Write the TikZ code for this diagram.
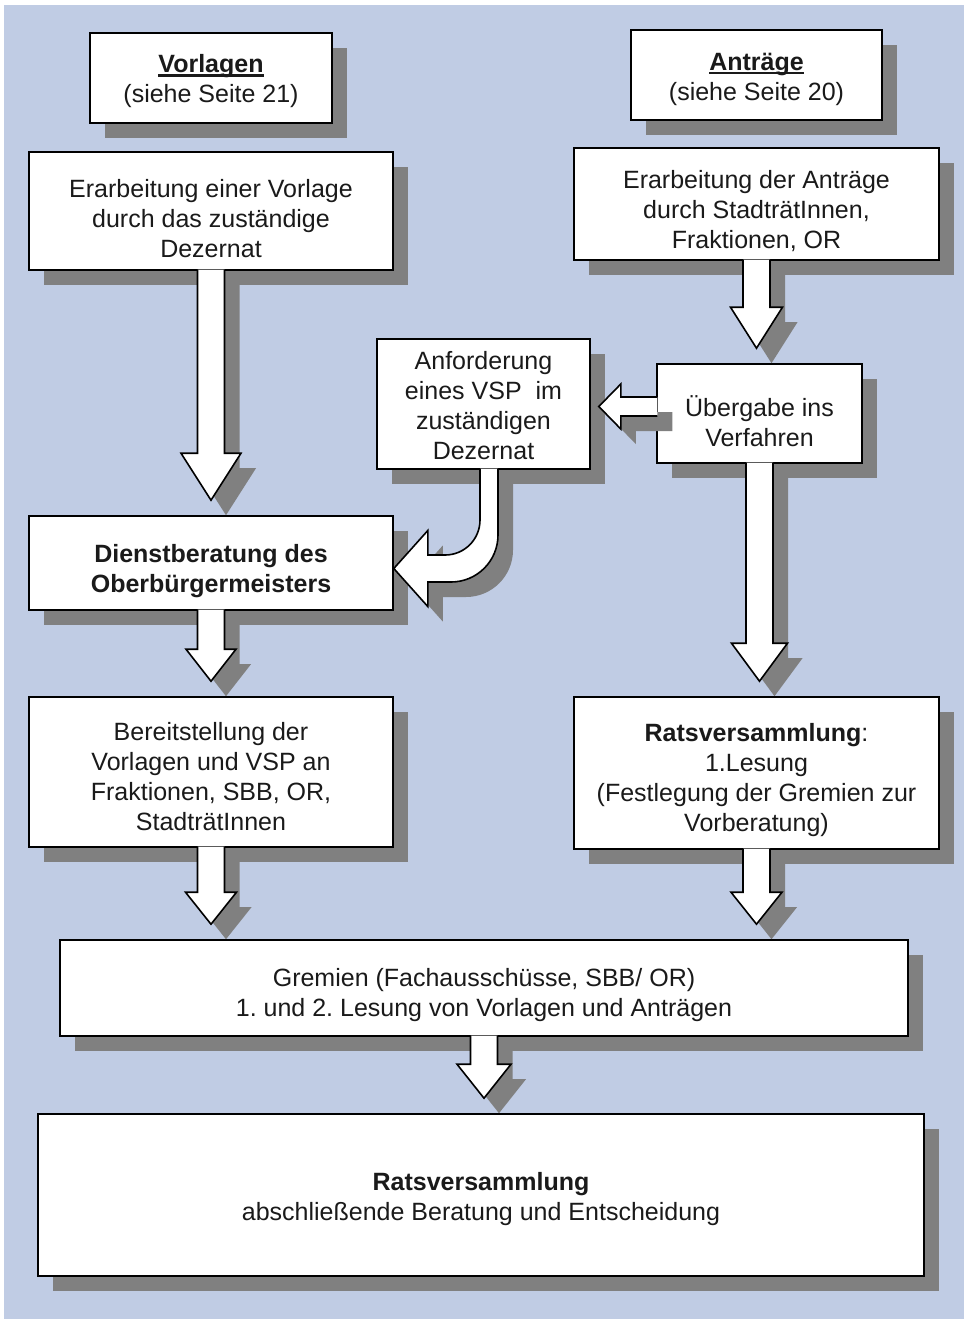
\documentclass[tikz,border=0pt]{standalone}
\usepackage{fontspec}
\setmainfont{Liberation Sans}
\usepackage{xcolor}
\usepackage{tikz}
\usetikzlibrary{calc,shadows}
\definecolor{bgblue}{HTML}{C0CCE4}
\definecolor{shadowgray}{HTML}{808080}
\definecolor{textgray}{HTML}{1A1A1A}
\newcommand\ULine[1]{\setbox0\hbox{#1}\rlap{\rule[-1.9pt]{\wd0}{1.3pt}}\box0}
\newcommand\Tdn[1]{\rule{0pt}{#1}}
\frenchspacing

\begin{document}
\begin{tikzpicture}[y=-0.5pt,x=0.5pt,
	box/.style={draw=black, line width=0.8pt, fill=white, align=center, inner sep=0pt,
		text=textgray, font=\fontsize{12.5}{15}\selectfont,
		drop shadow={shadow xshift=7.5pt, shadow yshift=-7.5pt, fill=shadowgray, opacity=1}},
	arrshadow/.style={fill=shadowgray, transform canvas={shift={(7.5pt,-7.5pt)}}},
	arrbody/.style={fill=white, draw=black, line width=0.8pt, line join=miter}]
	\newcommand\DownShape[4]{let \p1=(#3.south), \p2=(#3.south |- #4.north) in
		(\x1-6.75pt,\y1+0.6pt) -- (\x1-6.75pt,\y2+7.5pt+#1) -- (\x1-#2,\y2+7.5pt+#1) -- (\x1,\y2+7.5pt)
		-- (\x1+#2,\y2+7.5pt+#1) -- (\x1+6.75pt,\y2+7.5pt+#1) -- (\x1+6.75pt,\y1+0.6pt)}
	\newcommand\DownArrow[3][17pt/13.5pt]{%
		\foreach \hl/\hw in {#1}{
			\path[arrshadow] \DownShape{\hl}{\hw}{#2}{#3};
			\path[arrbody] \DownShape{\hl}{\hw}{#2}{#3};
		}}
	\newcommand\LeftShape{let \p1=($(ueb.west |- anf.east)+(0,2.5)$), \p2=(anf.east) in
		(\x1+0.6pt,\y1+4.75pt) -- (\x2+15pt,\y1+4.75pt) -- (\x2+15pt,\y1+11.25pt) -- (\x2+4pt,\y1)
		-- (\x2+15pt,\y1-11.25pt) -- (\x2+15pt,\y1-4.75pt) -- (\x1+0.6pt,\y1-4.75pt)}
	\newcommand\CurveShape{let \p1=(anf.south), \p2=(dienst.east), \p3=(\x2,\y2-2.75pt),
		\p4=(\x1+7.25pt,\y3-6.75pt), \p5=(\x1-1.75pt,\y3+6.75pt) in
		(\x5,\y1+0.6pt) -- (\x5,\y5+17.5pt) .. controls (\x5,\y5+7.8pt) and (\x5-7.8pt,\y5) .. (\x5-17.5pt,\y5)
		-- (\x2+17pt,\y5) -- (\x2+17pt,\y3+19pt) -- (\x2,\y3) -- (\x2+17pt,\y3-19pt) -- (\x2+17pt,\y4)
		-- (\x4-23.5pt,\y4) .. controls (\x4-10.5pt,\y4) and (\x4,\y4+10.5pt) .. (\x4,\y4+23.5pt) -- (\x4,\y1+0.6pt)}

	\useasboundingbox (0,0) rectangle (969,1319);
	\fill[bgblue] (4,5) rectangle (964,1319);

	% boxes
	\node[box, minimum width=121pt, minimum height=45pt] (vorl) at (211,78) {\Tdn{12.5pt}\textbf{\ULine{Vorlagen}}\\(siehe Seite 21)};
	\node[box, minimum width=125.5pt, minimum height=45pt] (antr) at (756.5,75) {\Tdn{13pt}\textbf{\ULine{Anträge}}\\(siehe Seite 20)};
	\node[box, minimum width=182pt, minimum height=59pt] (erv) at (211,211) {\Tdn{17pt}Erarbeitung einer Vorlage\\durch das zuständige\\Dezernat};
	\node[box, minimum width=182.5pt, minimum height=56pt] (era) at (756.5,204) {\Tdn{16pt}Erarbeitung der Anträge\\durch StadträtInnen,\\Fraktionen, OR};
	\node[box, minimum width=106.5pt, minimum height=65pt] (anf) at (483.5,404) {\Tdn{11pt}Anforderung\\eines VSP\ \ im\\zuständigen\\Dezernat};
	\node[box, minimum width=102.5pt, minimum height=49.5pt] (ueb) at (759.5,413.5) {\Tdn{18pt}Übergabe ins\\Verfahren};
	\node[box, minimum width=182pt, minimum height=47pt] (dienst) at (211,563) {\Tdn{17pt}\textbf{Dienstberatung des}\\\textbf{Oberbürgermeisters}};
	\node[box, minimum width=182pt, minimum height=75pt] (bereit) at (211,772) {\Tdn{14pt}Bereitstellung der\\Vorlagen und VSP an\\Fraktionen, SBB, OR,\\StadträtInnen};
	\node[box, minimum width=182.5pt, minimum height=76pt] (rats1) at (756.5,773) {\Tdn{16pt}\textbf{Ratsversammlung}:\\1.Lesung\\(Festlegung der Gremien zur\\Vorberatung)};
	\node[box, minimum width=424pt, minimum height=48pt] (grem) at (484,988) {\Tdn{16.5pt}Gremien (Fachausschüsse, SBB/ OR)\\1. und 2. Lesung von Vorlagen und Anträgen};
	\node[box, minimum width=443pt, minimum height=81pt] (ratsend) at (481,1195) {\Tdn{13pt}\textbf{Ratsversammlung}\\abschließende Beratung und Entscheidung};

	% block arrows
	\DownArrow[23.5pt/15pt]{erv}{dienst}
	\DownArrow[20.5pt/13pt]{era}{ueb}
	\DownArrow[19pt/14pt]{ueb}{rats1}
	\DownArrow[16pt/12.5pt]{dienst}{bereit}
	\DownArrow[16pt/12.75pt]{bereit}{grem}
	\DownArrow[16pt/12.75pt]{rats1}{grem}
	\DownArrow{grem}{ratsend}
	\path[arrshadow] \LeftShape;
	\path[arrbody] \LeftShape;
	\path[arrshadow] \CurveShape;
	\path[arrbody] \CurveShape;
\end{tikzpicture}
\end{document}
